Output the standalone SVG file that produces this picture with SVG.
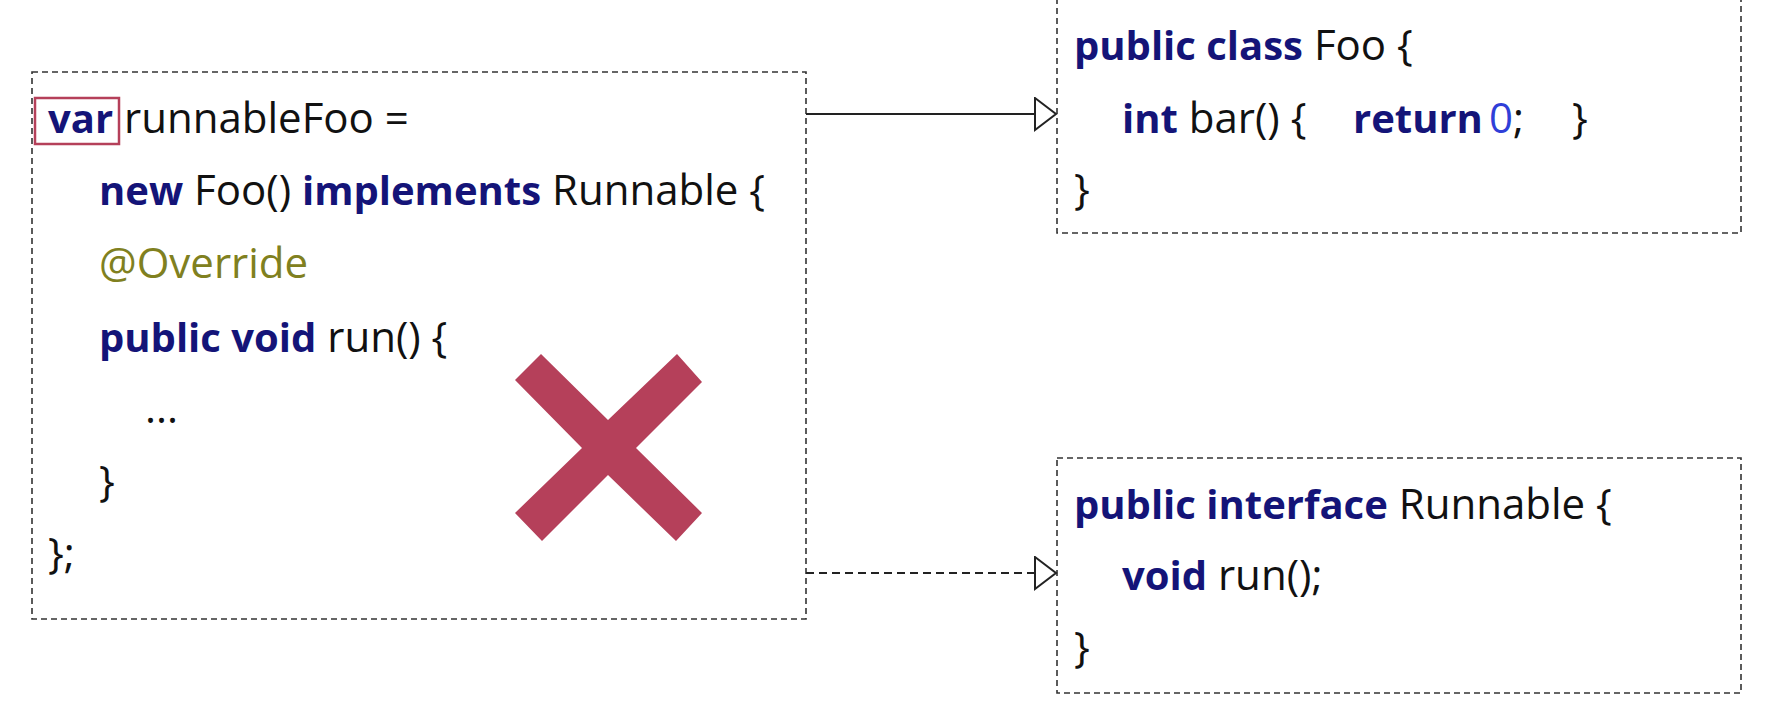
<svg xmlns="http://www.w3.org/2000/svg" width="1780" height="702" viewBox="0 0 1780 702">
<style>
text{font-family:"Open Sans","Noto Sans",sans-serif;font-size:42px;fill:#111}
.k{font-weight:bold;fill:#141478;font-size:40px}
.a{fill:#808020}
.n{fill:#2f3fd8}
.box{fill:none;stroke:#333;stroke-width:1.6;stroke-dasharray:6 4}
.conn{fill:none;stroke:#222;stroke-width:2}
</style>
<defs>
<marker id="tri" markerWidth="24" markerHeight="36" refX="22" refY="17" orient="auto" markerUnits="userSpaceOnUse">
<path d="M1,1 L22,17 L1,33 Z" fill="#fff" stroke="#222" stroke-width="2"/>
</marker>
</defs>
<rect width="1780" height="702" fill="#fff"/>
<g id="anon">
<rect class="box" x="32" y="72" width="774" height="547"/>
<rect x="35" y="98" width="84" height="46" fill="none" stroke="#b5405a" stroke-width="2.5"/>
<text x="48" y="133"><tspan class="k">var</tspan> runnableFoo =</text>
<text x="99" y="205"><tspan class="k">new</tspan> Foo() <tspan class="k">implements</tspan> Runnable {</text>
<text x="99" y="278" class="a">@Override</text>
<text x="99" y="352"><tspan class="k">public void</tspan> run() {</text>
<text x="145" y="423">...</text>
<text x="99" y="496">}</text>
<text x="48" y="568">};</text>
<polygon points="541,354 608,420 677,354 702,382 636,448 702,513 676,541 608,475 542,541 515,513 582,448 515,380" fill="#b5405a"/>
</g>
<g id="foo">
<rect class="box" x="1057" y="-10" width="684" height="243"/>
<text x="1074" y="60"><tspan class="k">public class</tspan> Foo {</text>
<text y="133"><tspan x="1122" class="k">int</tspan><tspan> bar() {</tspan><tspan x="1353" class="k">return</tspan><tspan x="1489" class="n">0</tspan><tspan>;</tspan><tspan x="1572">}</tspan></text>
<text x="1074" y="204">}</text>
</g>
<g id="runnable">
<rect class="box" x="1057" y="458" width="684" height="235"/>
<text x="1074" y="519"><tspan class="k">public interface</tspan> Runnable {</text>
<text x="1122" y="590"><tspan class="k">void</tspan> run();</text>
<text x="1074" y="662">}</text>
</g>
<g id="connectors">
<line class="conn" x1="806" y1="114" x2="1056" y2="114" marker-end="url(#tri)"/>
<line class="conn" x1="806" y1="573" x2="1056" y2="573" stroke-dasharray="8 5" marker-end="url(#tri)"/>
</g>
</svg>
